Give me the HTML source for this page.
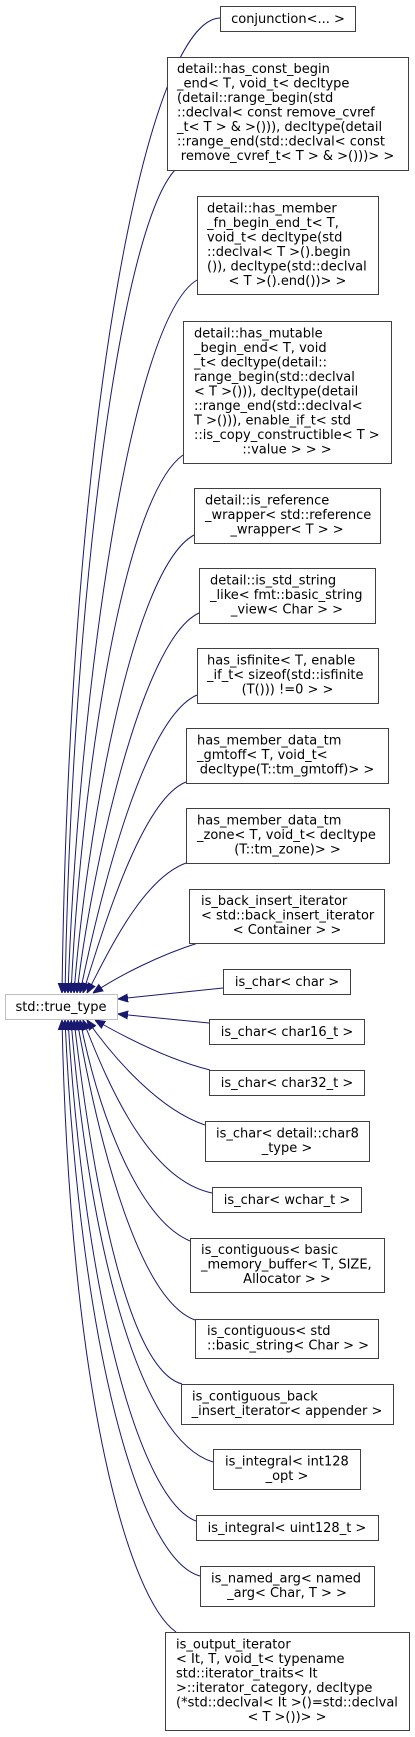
<!DOCTYPE html>
<html><head><meta charset="utf-8"><style>
html,body{margin:0;padding:0;background:#fff}
svg{display:block}
text{font-family:"DejaVu Sans","Liberation Sans",sans-serif;font-size:13px;fill:#000}
.b{fill:#fff;stroke:#404040;stroke-width:1}
.e{fill:none;stroke:#191970;stroke-width:1}
</style></head><body>
<svg width="415" height="1737" viewBox="0 0 415 1737" xmlns="http://www.w3.org/2000/svg">
<defs><marker id="a" viewBox="0 0 10 10" refX="10" refY="5" markerWidth="10" markerHeight="10" markerUnits="userSpaceOnUse" orient="auto"><path d="M0,1 L10,5 L0,9 z" fill="#191970" stroke="#191970"/></marker></defs>
<g class="e" marker-end="url(#a)">
<path d="M220,18 C150,20 70,400 62,993"/>
<path d="M175,170 C120,230 72,600 65,993"/>
<path d="M197,280 C130,320 78,700 68,993"/>
<path d="M183,455 C120,500 80,800 71,993"/>
<path d="M194,535 C130,570 85,850 74,993"/>
<path d="M199,613 C140,640 90,880 77,993"/>
<path d="M197,695 C140,720 95,920 80,993"/>
<path d="M186,782 C140,800 100,940 83,993"/>
<path d="M186,863 C140,880 105,960 87,993"/>
<path d="M198,943 C160,955 120,975 93,993"/>
<path d="M223,988 L118,999"/>
<path d="M209,1023 L118,1014"/>
<path d="M210,1070 C170,1060 130,1040 95,1020"/>
<path d="M205,1125 C160,1110 115,1060 87,1020"/>
<path d="M212,1193 C150,1180 110,1090 83,1020"/>
<path d="M190,1241 C140,1220 100,1120 80,1020"/>
<path d="M195,1320 C140,1300 100,1150 77,1020"/>
<path d="M182,1384 C130,1370 95,1200 74,1020"/>
<path d="M213,1462 C140,1440 90,1250 71,1020"/>
<path d="M196,1521 C140,1500 85,1300 68,1020"/>
<path d="M200,1576 C140,1560 80,1350 65,1020"/>
<path d="M176,1632 C130,1600 70,1400 62,1020"/>
</g>
<rect x="5.5" y="994.5" width="112" height="25" fill="#fff" stroke="#bfbfbf"/>
<text x="61" y="1011" text-anchor="middle">std::true_type</text>

<rect class="b" x="220.5" y="6.5" width="135" height="25"/>
<text x="288" y="23" text-anchor="middle">conjunction&lt;... &gt;</text>

<rect class="b" x="167.5" y="57.5" width="241" height="113"/>
<text x="177" y="73">detail::has_const_begin</text>
<text x="177" y="87.5">_end&lt; T, void_t&lt; decltype</text>
<text x="177" y="102">(detail::range_begin(std</text>
<text x="177" y="116.5">::declval&lt; const remove_cvref</text>
<text x="177" y="131">_t&lt; T &gt; &amp; &gt;())), decltype(detail</text>
<text x="177" y="145.5">::range_end(std::declval&lt; const</text>
<text x="287.5" y="160" text-anchor="middle">remove_cvref_t&lt; T &gt; &amp; &gt;()))&gt; &gt;</text>

<rect class="b" x="197.5" y="196.5" width="181" height="98"/>
<text x="207" y="212.5">detail::has_member</text>
<text x="207" y="227">_fn_begin_end_t&lt; T,</text>
<text x="207" y="241.5"> void_t&lt; decltype(std</text>
<text x="207" y="256">::declval&lt; T &gt;().begin</text>
<text x="207" y="270.5">()), decltype(std::declval</text>
<text x="287.5" y="285" text-anchor="middle">&lt; T &gt;().end())&gt; &gt;</text>

<rect class="b" x="183.5" y="321.5" width="208" height="142"/>
<text x="194" y="337.5">detail::has_mutable</text>
<text x="194" y="352">_begin_end&lt; T, void</text>
<text x="194" y="366.5">_t&lt; decltype(detail::</text>
<text x="194" y="381">range_begin(std::declval</text>
<text x="194" y="395.5">&lt; T &gt;())), decltype(detail</text>
<text x="194" y="410">::range_end(std::declval&lt;</text>
<text x="194" y="424.5"> T &gt;())), enable_if_t&lt; std</text>
<text x="194" y="439">::is_copy_constructible&lt; T &gt;</text>
<text x="287" y="453.5" text-anchor="middle">::value &gt; &gt; &gt;</text>

<rect class="b" x="194.5" y="488.5" width="186" height="55"/>
<text x="205" y="504.5">detail::is_reference</text>
<text x="205" y="519">_wrapper&lt; std::reference</text>
<text x="287" y="533.5" text-anchor="middle">_wrapper&lt; T &gt; &gt;</text>

<rect class="b" x="199.5" y="568.5" width="176" height="55"/>
<text x="210" y="584.5">detail::is_std_string</text>
<text x="210" y="599">_like&lt; fmt::basic_string</text>
<text x="287" y="613.5" text-anchor="middle">_view&lt; Char &gt; &gt;</text>

<rect class="b" x="197.5" y="648.5" width="181" height="55"/>
<text x="207" y="664.5">has_isfinite&lt; T, enable</text>
<text x="207" y="679">_if_t&lt; sizeof(std::isfinite</text>
<text x="287.5" y="693.5" text-anchor="middle">(T())) !=0 &gt; &gt;</text>

<rect class="b" x="186.5" y="728.5" width="202" height="55"/>
<text x="197" y="744.5">has_member_data_tm</text>
<text x="197" y="759">_gmtoff&lt; T, void_t&lt;</text>
<text x="287" y="773.5" text-anchor="middle">decltype(T::tm_gmtoff)&gt; &gt;</text>

<rect class="b" x="186.5" y="808.5" width="203" height="55"/>
<text x="197" y="824.5">has_member_data_tm</text>
<text x="197" y="839">_zone&lt; T, void_t&lt; decltype</text>
<text x="287.5" y="853.5" text-anchor="middle">(T::tm_zone)&gt; &gt;</text>

<rect class="b" x="189.5" y="889.5" width="195" height="54"/>
<text x="201" y="905">is_back_insert_iterator</text>
<text x="201" y="919.5">&lt; std::back_insert_iterator</text>
<text x="287" y="934" text-anchor="middle">&lt; Container &gt; &gt;</text>

<rect class="b" x="223.5" y="969.5" width="127" height="25"/>
<text x="287" y="986" text-anchor="middle">is_char&lt; char &gt;</text>

<rect class="b" x="209.5" y="1019.5" width="155" height="25"/>
<text x="287" y="1036" text-anchor="middle">is_char&lt; char16_t &gt;</text>

<rect class="b" x="209.5" y="1070.5" width="155" height="25"/>
<text x="287" y="1087" text-anchor="middle">is_char&lt; char32_t &gt;</text>

<rect class="b" x="205.5" y="1121.5" width="164" height="40"/>
<text x="216" y="1137.5">is_char&lt; detail::char8</text>
<text x="287" y="1152" text-anchor="middle">_type &gt;</text>

<rect class="b" x="212.5" y="1187.5" width="149" height="25"/>
<text x="287" y="1204" text-anchor="middle">is_char&lt; wchar_t &gt;</text>

<rect class="b" x="190.5" y="1238.5" width="194" height="54"/>
<text x="201" y="1254">is_contiguous&lt; basic</text>
<text x="201" y="1268.5">_memory_buffer&lt; T, SIZE,</text>
<text x="287" y="1283" text-anchor="middle">Allocator &gt; &gt;</text>

<rect class="b" x="195.5" y="1319.5" width="183" height="39"/>
<text x="207" y="1335">is_contiguous&lt; std</text>
<text x="207" y="1349.5">::basic_string&lt; Char &gt; &gt;</text>

<rect class="b" x="181.5" y="1384.5" width="212" height="40"/>
<text x="192" y="1400.5">is_contiguous_back</text>
<text x="287" y="1415" text-anchor="middle">_insert_iterator&lt; appender &gt;</text>

<rect class="b" x="213.5" y="1449.5" width="147" height="40"/>
<text x="225" y="1465.5">is_integral&lt; int128</text>
<text x="287" y="1480" text-anchor="middle">_opt &gt;</text>

<rect class="b" x="196.5" y="1515.5" width="182" height="25"/>
<text x="287" y="1532" text-anchor="middle">is_integral&lt; uint128_t &gt;</text>

<rect class="b" x="200.5" y="1566.5" width="174" height="40"/>
<text x="211" y="1582.5">is_named_arg&lt; named</text>
<text x="287" y="1597" text-anchor="middle">_arg&lt; Char, T &gt; &gt;</text>

<rect class="b" x="165.5" y="1632.5" width="244" height="98"/>
<text x="176" y="1648.5">is_output_iterator</text>
<text x="176" y="1663">&lt; It, T, void_t&lt; typename</text>
<text x="176" y="1677.5"> std::iterator_traits&lt; It</text>
<text x="176" y="1692"> &gt;::iterator_category, decltype</text>
<text x="176" y="1706.5">(*std::declval&lt; It &gt;()=std::declval</text>
<text x="287" y="1721" text-anchor="middle">&lt; T &gt;())&gt; &gt;</text>
</svg>
</body></html>
